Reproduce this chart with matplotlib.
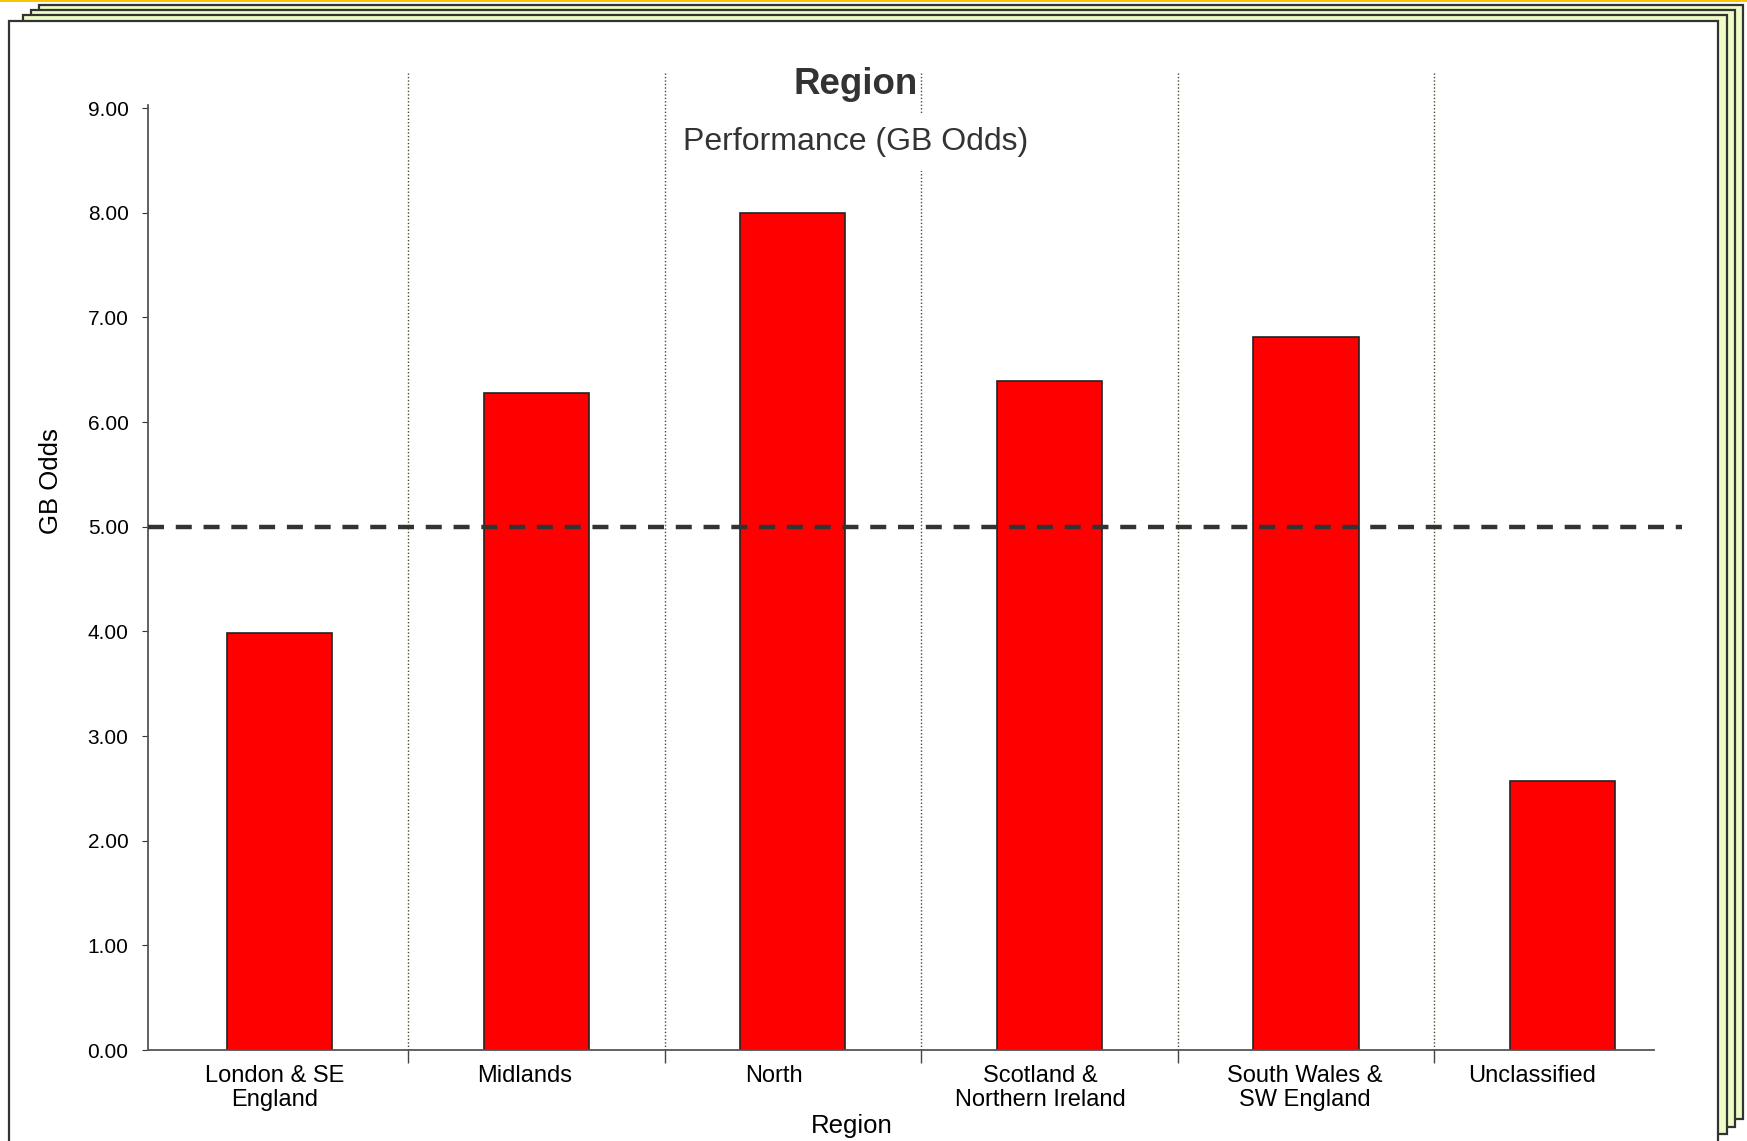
import matplotlib
matplotlib.use("Agg")
import matplotlib.pyplot as plt
import matplotlib.transforms as mtransforms
from matplotlib.patches import Rectangle
from matplotlib.ticker import FormatStrFormatter

plt.rcParams['font.family'] = ['Liberation Sans', 'DejaVu Sans']

regions = ["London & SE\nEngland", "Midlands", "North",
           "Scotland &\nNorthern Ireland", "South Wales &\nSW England", "Unclassified"]
gb_odds = [3.98, 6.28, 8.00, 6.39, 6.81, 2.57]
target = 5.0
yticks = [0, 1, 2, 3, 4, 5, 6, 7, 8, 9]

W, H = 1747, 1141
fig = plt.figure(figsize=(W / 100, H / 100), dpi=100)
fig.patch.set_facecolor("white")

def fx(x):
    return x / W

def fy(y):
    return 1 - y / H

# stacked "pages" behind the chart
fig.add_artist(Rectangle((0, fy(2)), 1, 2 / H, transform=fig.transFigure,
                         fc="#f7c600", ec="none", zorder=-10))
for left, top, right, bottom in [(39, 5, 1743, 1119), (31, 10, 1735, 1127), (23, 15, 1727, 1134)]:
    fig.add_artist(Rectangle((fx(left), fy(bottom)), fx(right - left), (bottom - top) / H,
                             transform=fig.transFigure, fc="#eefcc6", ec="#333333", lw=1.6,
                             zorder=-10))
fig.add_artist(Rectangle((fx(9), fy(1160)), fx(1718 - 9), (1160 - 21) / H,
                         transform=fig.transFigure, fc="white", ec="#333333", lw=1.6,
                         zorder=-10))

ax = fig.add_axes([fx(148), fy(1050), fx(1654 - 148), (1050 - 105) / H])
ax.set_facecolor("none")

x = list(range(len(regions)))
ax.bar(x, gb_odds, width=0.41, color="#ff0000", edgecolor="#222222", linewidth=1.2, zorder=2)

# dotted separators between categories
seps = [i + 0.5 for i in range(len(regions) - 1)]
for s in seps:
    ax.plot([s, s], [0, 1.035], transform=ax.get_xaxis_transform(), color="#4a4a2a",
            linestyle=(0, (1, 1.5)), linewidth=1.0, clip_on=False, zorder=1)

# reference line
ax.plot([-0.513, 5.465], [target, target], color="#333333", linewidth=3.2,
        linestyle=(0, (3.6, 2.65)), clip_on=False, zorder=3)

ax.set_xlim(-0.513, 5.356)
ax.set_ylim(0, 9.03)
ax.set_yticks(yticks)
ax.yaxis.set_major_formatter(FormatStrFormatter("%.2f"))
ax.tick_params(axis="y", direction="out", length=4, width=0.8, color="#333333",
               labelsize=15, pad=10)

ax.set_xticks(x)
ax.set_xticklabels(regions, fontsize=17, linespacing=1.12)
ax.tick_params(axis="x", length=0, pad=11)
ax.set_xticks(seps, minor=True)
ax.tick_params(axis="x", which="minor", length=9.5, width=1.0, color="#444444")

# labels sit a little left of the bar centres in the original
label_shift = [-5, -12, -19, -9, -1, -31]
for lab, dx in zip(ax.get_xticklabels(), label_shift):
    lab.set_transform(lab.get_transform() + mtransforms.Affine2D().translate(dx, 0))

for side in ["top", "right"]:
    ax.spines[side].set_visible(False)
for side in ["left", "bottom"]:
    ax.spines[side].set_color("#555555")
    ax.spines[side].set_linewidth(1.3)

fig.text(fx(856), fy(84), "Region", ha="center", va="center", fontsize=26.5,
         fontweight="bold", color="#333333")
fig.text(fx(856), fy(142), "Performance (GB Odds)", ha="center", va="center", fontsize=23,
         color="#333333", bbox=dict(fc="white", ec="none", pad=10))
fig.text(fx(51), fy(481), "GB Odds", ha="center", va="center", rotation=90, fontsize=18.5)
fig.text(fx(852), fy(1126), "Region", ha="center", va="center", fontsize=18.5)

fig.savefig("out.png", dpi=100)
